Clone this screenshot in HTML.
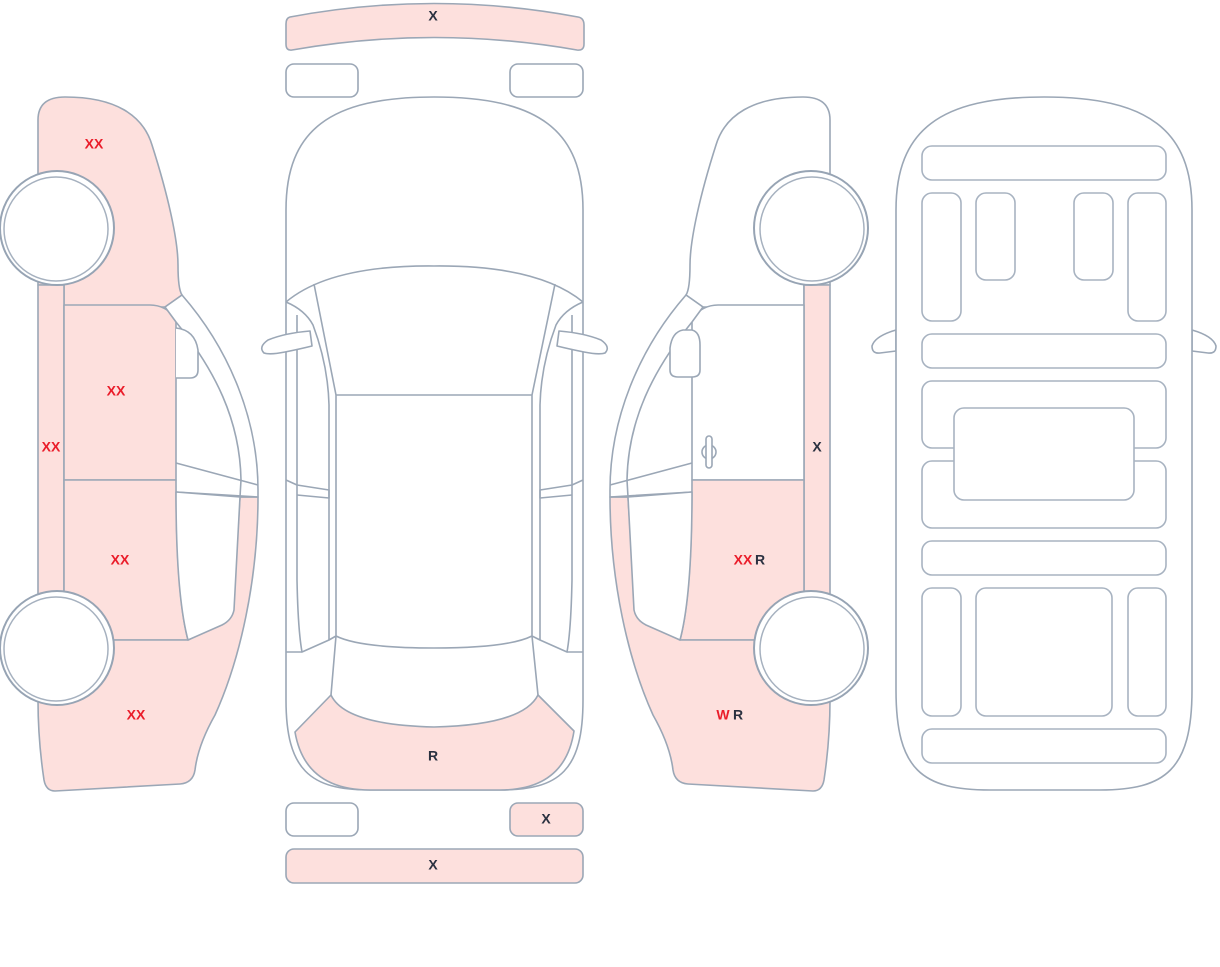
<!DOCTYPE html>
<html><head><meta charset="utf-8"><style>
html,body{margin:0;padding:0;background:#fff;}
svg{display:block;}
text{font-family:"Liberation Sans",sans-serif;font-weight:bold;font-size:14px;text-anchor:middle;dominant-baseline:middle;}
.r{fill:#ea1d2a}.d{fill:#2a3140}
</style></head><body>
<svg width="1220" height="967" viewBox="0 0 1220 967" xmlns="http://www.w3.org/2000/svg">
<defs>
<g id="wheel">
<circle r="57" fill="#fff" stroke="#97a4b4" stroke-width="2"/>
<circle r="52" cx="-1" cy="1" fill="#fff" stroke="#a6b1bf" stroke-width="1.5"/>
</g>
</defs>
<g stroke="#9ba7b6" stroke-width="1.6" fill="#fff" stroke-linejoin="round">

<!-- LEFT SIDE VIEW -->
<g>
<path d="M38,120 Q38,97 65,97 C115,97 143,115 152,145 C168,195 178,240 178,265 C178,285 180,292 182,295 L165,307 L64,307 L64,285 L38,285 Z" fill="#fde0dd"/>
<rect x="38" y="285" width="26" height="315" fill="#fde0dd"/>
<path d="M64,305 L150,305 Q165,305 176,318 L176,480 L64,480 Z" fill="#fde0dd"/>
<path d="M64,480 L176,480 C176,560 180,610 188,640 L64,640 Z" fill="#fde0dd"/>
<path d="M38,600 L64,600 L64,640 L188,640 L222,622 Q232,615 234,590 L240,497 L258,497 C258,580 240,660 215,715 Q198,745 195,770 Q193,783 180,784 L55,791 Q46,791 44,780 Q38,740 38,700 Z" fill="#fde0dd"/>
<path d="M182,295 C230,350 258,420 258,490 L258,497 L240,497 L241,480 C240,420 215,370 176,322 L165,307 Z" fill="#fff"/>
<path d="M176,328 Q195,330 198,350 L198,370 Q198,378 190,378 L176,378" fill="#fff"/>
<path d="M176,463 L258,485 M176,492 L258,497" fill="none"/>
<path d="M176,492 L240,497 L234,610 Q232,620 222,625 L188,640 C180,610 176,560 176,492 Z" fill="#fff"/>
<use href="#wheel" x="57" y="228"/>
<use href="#wheel" x="57" y="648"/>
</g>

<!-- RIGHT SIDE VIEW (mirror) -->
<g transform="translate(868,0) scale(-1,1)">
<path d="M38,120 Q38,97 65,97 C115,97 143,115 152,145 C168,195 178,240 178,265 C178,285 180,292 182,295 L165,307 L64,307 L64,285 L38,285 Z" fill="#fff"/>
<rect x="38" y="285" width="26" height="315" fill="#fde0dd"/>
<path d="M64,305 L150,305 Q165,305 176,318 L176,480 L64,480 Z" fill="#fff"/>
<path d="M64,480 L176,480 C176,560 180,610 188,640 L64,640 Z" fill="#fde0dd"/>
<path d="M38,600 L64,600 L64,640 L188,640 L222,622 Q232,615 234,590 L240,497 L258,497 C258,580 240,660 215,715 Q198,745 195,770 Q193,783 180,784 L55,791 Q46,791 44,780 Q38,740 38,700 Z" fill="#fde0dd"/>
<path d="M182,295 C230,350 258,420 258,490 L258,497 L240,497 L241,480 C240,420 215,370 176,322 L165,307 Z" fill="#fff"/>
<path d="M176,330 Q168,332 168,345 L168,370 Q168,377 176,377 L190,377 Q198,377 198,370 L198,348 Q196,332 185,330 Z" fill="#fff"/>
<path d="M176,463 L258,485 M176,492 L258,497" fill="none"/>
<path d="M176,492 L240,497 L234,610 Q232,620 222,625 L188,640 C180,610 176,560 176,492 Z" fill="#fff"/>
<circle cx="159" cy="452" r="7" fill="#fff"/>
<rect x="156" y="436" width="6" height="32" rx="3" fill="#fff"/>
<use href="#wheel" x="57" y="228"/>
<use href="#wheel" x="57" y="648"/>
</g>

<!-- CENTER TOP VIEW -->
<path d="M290,17 Q434,-10 578,17 Q584,18 584,25 L584,44 Q584,51 577,50 Q434,25 292,50 Q286,51 286,44 L286,24 Q286,18 290,17 Z" fill="#fde0dd"/>
<rect x="286" y="64" width="72" height="33" rx="8"/>
<rect x="510" y="64" width="73" height="33" rx="8"/>
<path d="M286,210 C286,130 330,97 434,97 C538,97 583,130 583,210 L583,700 C583,770 560,790 500,790 L370,790 C310,790 286,770 286,700 Z"/>
<path d="M286,302 Q330,265 434,266 Q538,265 583,302" fill="none"/>
<path d="M286,302 Q305,310 313,325 Q328,365 329,405 L329,640 L336,636 L336,395 L314,284" fill="none"/>
<path d="M583,302 Q564,310 556,325 Q541,365 540,405 L540,640 L532,636 L532,395 L555,284" fill="none"/>
<path d="M297,315 L297,580 Q298,630 302,652 L329,640 M572,315 L572,580 Q571,630 567,652 L540,640" fill="none"/>
<path d="M286,652 L302,652 M583,652 L567,652" fill="none"/>
<path d="M336,395 L532,395 M336,636 Q360,648 434,648 Q508,648 532,636 M336,636 L331,695 M532,636 L538,695" fill="none"/>
<path d="M286,480 L297,485 L329,490 L329,498 L297,495 M583,480 L572,485 L540,490 L540,498 L572,495" fill="none"/>
<path d="M310,331 Q285,333 268,340 Q258,347 264,353 Q270,355 285,352 Q300,349 312,346 Z"/>
<path d="M559,331 Q584,333 601,340 Q611,347 605,353 Q599,355 584,352 Q569,349 557,346 Z"/>
<path d="M295,732 L331,695 Q345,725 434,727 Q523,725 538,695 L574,731 Q565,790 500,790 L370,790 Q305,790 295,732 Z" fill="#fde0dd"/>
<rect x="286" y="803" width="72" height="33" rx="8"/>
<rect x="510" y="803" width="73" height="33" rx="8" fill="#fde0dd"/>
<rect x="286" y="849" width="297" height="34" rx="8" fill="#fde0dd"/>

<!-- RIGHT INTERIOR VIEW -->
<path d="M896,330 Q875,336 872,346 Q872,354 880,353 L896,351 Z"/>
<path d="M1192,330 Q1213,336 1216,346 Q1216,354 1208,353 L1192,351 Z"/>
<path d="M896,210 C896,130 940,97 1044,97 C1148,97 1192,130 1192,210 L1192,690 C1192,770 1165,790 1100,790 L990,790 C922,790 896,770 896,690 Z"/>
<g fill="#fff" stroke="#a8b3c1">
<rect x="922" y="146" width="244" height="34" rx="10"/>
<rect x="922" y="193" width="39" height="128" rx="10"/>
<rect x="976" y="193" width="39" height="87" rx="10"/>
<rect x="1074" y="193" width="39" height="87" rx="10"/>
<rect x="1128" y="193" width="38" height="128" rx="10"/>
<rect x="922" y="334" width="244" height="34" rx="10"/>
<rect x="922" y="381" width="244" height="67" rx="10"/>
<rect x="922" y="461" width="244" height="67" rx="10"/>
<rect x="954" y="408" width="180" height="92" rx="10"/>
<rect x="922" y="541" width="244" height="34" rx="10"/>
<rect x="922" y="588" width="39" height="128" rx="10"/>
<rect x="976" y="588" width="136" height="128" rx="10"/>
<rect x="1128" y="588" width="38" height="128" rx="10"/>
<rect x="922" y="729" width="244" height="34" rx="10"/>
</g>
</g>

<!-- labels -->
<text x="94" y="145" class="r">XX</text>
<text x="116" y="392" class="r">XX</text>
<text x="51" y="448" class="r">XX</text>
<text x="120" y="561" class="r">XX</text>
<text x="136" y="716" class="r">XX</text>
<text x="433" y="17" class="d">X</text>
<text x="433" y="757" class="d">R</text>
<text x="546" y="820" class="d">X</text>
<text x="433" y="866" class="d">X</text>
<text x="817" y="448" class="d">X</text>
<text x="743" y="561" class="r">XX</text>
<text x="760" y="561" class="d">R</text>
<text x="723" y="716" class="r">W</text>
<text x="738" y="716" class="d">R</text>
</svg>
</body></html>
